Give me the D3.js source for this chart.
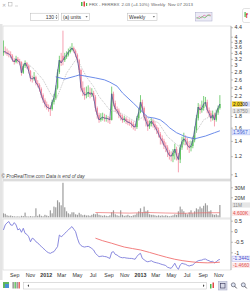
<!DOCTYPE html>
<html>
<head>
<meta charset="utf-8">
<script src="https://cdn.jsdelivr.net/npm/d3@7"></script>
<style>
  body { margin: 0; background: #fff; }
  svg { display: block; font-family: "Liberation Sans", Arial, sans-serif; }
  .axis text { font-size: 5.3px; fill: #333; }
  .axis line { stroke: #888; stroke-width: 0.5; }
  .axis path { display: none; }
</style>
</head>
<body>
<div id="chart"></div>
<script>
// weekly FRX candles, first bar week of Jul 21 2011, last Nov 07 2013
const firstWeek = new Date(2011, 6, 21);

const opens = [
  3.40,3.45,3.43,3.38,3.36,3.30,3.16,3.10,3.20,3.13,
  3.10,2.78,2.98,3.07,2.98,2.83,2.63,2.61,2.66,2.51,
  2.46,2.36,2.22,2.11,2.03,1.97,1.95,1.93,2.07,2.16,
  2.39,2.80,3.16,3.30,3.16,3.26,3.33,3.43,3.50,3.57,
  3.47,3.33,3.16,2.86,2.39,2.29,2.22,2.24,2.29,2.24,
  2.27,2.18,1.95,1.82,1.73,1.76,1.78,1.76,1.76,1.75,
  1.73,2.25,2.05,1.93,1.90,1.82,1.78,1.73,1.75,1.71,
  1.69,1.68,1.66,1.62,1.61,1.76,1.87,2.07,1.95,1.79,
  1.71,1.62,1.66,1.71,1.66,1.61,1.56,1.50,1.44,1.40,
  1.34,1.31,1.25,1.21,1.20,1.24,1.29,1.21,1.16,1.31,
  1.39,1.43,1.40,1.34,1.31,1.33,1.41,1.56,1.76,1.97,
  1.91,1.95,2.03,2.07,1.91,1.85,1.76,1.82,1.73,1.86,
  1.95];
const highs = [
  3.85,3.62,3.55,3.48,3.45,3.35,3.22,3.30,3.26,3.20,
  3.12,3.05,3.15,3.10,3.02,2.86,2.70,2.80,2.70,2.58,
  2.50,2.40,2.26,2.15,2.08,2.02,2.00,2.12,2.25,2.45,
  2.88,3.30,3.40,4.25,3.40,3.45,3.55,3.62,3.75,3.62,
  3.52,3.38,3.20,2.90,2.55,2.40,2.42,2.45,2.40,2.38,
  2.32,2.22,1.98,1.86,1.85,1.86,1.84,1.82,1.80,1.78,
  2.42,2.30,2.10,1.98,1.94,1.86,1.82,1.80,1.78,1.75,
  1.74,1.72,1.70,1.66,1.80,1.95,2.22,2.12,1.98,1.82,
  1.74,1.72,1.76,1.74,1.70,1.64,1.60,1.53,1.48,1.43,
  1.38,1.34,1.28,1.26,1.29,1.36,1.32,1.24,1.35,1.46,
  1.52,1.48,1.44,1.38,1.40,1.46,1.62,1.82,2.05,2.02,
  2.10,2.20,2.18,2.12,1.96,1.90,1.90,1.86,1.92,2.00,
  2.22];
const lows = [
  3.30,3.35,3.30,3.25,3.22,3.10,3.02,3.06,3.05,3.00,
  2.70,2.75,2.92,2.90,2.76,2.55,2.52,2.57,2.45,2.40,
  2.30,2.15,2.05,1.96,1.92,1.88,1.80,1.90,2.02,2.12,
  2.35,2.75,2.98,3.00,3.10,3.20,3.28,3.38,3.45,3.40,
  3.25,3.08,2.78,2.30,2.20,2.12,2.15,2.18,2.15,2.18,
  2.10,1.88,1.75,1.68,1.70,1.72,1.70,1.70,1.68,1.66,
  1.72,1.98,1.88,1.84,1.76,1.72,1.68,1.69,1.66,1.64,
  1.63,1.60,1.57,1.55,1.58,1.72,1.85,1.88,1.72,1.62,
  1.55,1.58,1.62,1.60,1.56,1.50,1.45,1.35,1.35,1.29,
  1.25,1.19,1.16,1.14,1.13,1.16,1.15,1.02,1.12,1.28,
  1.35,1.34,1.28,1.24,1.26,1.30,1.38,1.52,1.72,1.84,
  1.86,1.90,1.98,1.85,1.78,1.70,1.72,1.62,1.70,1.82,
  1.92];
const closes = [
  3.45,3.43,3.38,3.36,3.30,3.16,3.10,3.20,3.13,3.10,
  2.78,2.98,3.07,2.98,2.83,2.63,2.61,2.66,2.51,2.46,
  2.36,2.22,2.11,2.03,1.97,1.95,1.93,2.07,2.16,2.39,
  2.80,3.16,3.07,3.16,3.26,3.33,3.43,3.50,3.57,3.47,
  3.33,3.16,2.86,2.39,2.29,2.22,2.24,2.29,2.24,2.27,
  2.18,1.95,1.82,1.73,1.76,1.78,1.76,1.76,1.75,1.73,
  2.25,2.05,1.93,1.90,1.82,1.78,1.73,1.75,1.71,1.69,
  1.68,1.66,1.62,1.61,1.76,1.87,2.07,1.95,1.79,1.71,
  1.62,1.66,1.71,1.66,1.61,1.56,1.50,1.44,1.40,1.34,
  1.31,1.25,1.21,1.20,1.24,1.29,1.21,1.16,1.31,1.39,
  1.43,1.40,1.34,1.31,1.33,1.41,1.56,1.76,1.97,1.91,
  1.95,2.03,2.07,1.91,1.85,1.76,1.82,1.73,1.86,1.95,
  2.03];
// volume in millions of shares
const volumes = [
  4,3.5,2,1.5,1.8,1.2,1,0.8,1,0.7,
  1.5,1.2,4.7,1,0.8,1.2,0.9,1,9,1.5,
  3,1.5,1,2.5,1.8,1.2,7,4,10.7,10,
  17,15,12,34.5,10,6,4,3,5,5,
  3,2.5,4.5,3,2,2.5,1.8,2,1.5,2.5,
  3.5,3,4,2.5,2,1.5,2,1.5,1.2,2,
  5,7,3,2,1.5,7,2.5,1.5,1.8,2.5,
  1.5,1.2,2,2.5,4,6,9,5,10.7,6,
  7,3,2.5,2.5,2,1.5,2,1.5,2,1.5,
  2,1.5,1,1.5,2,3,2.5,6,10.7,8,
  6,4,3,5,7,4,6,9,8,10.7,
  9,11.5,14,12,6,7,3,2.5,3,2,
  12.3];
// [week index, value]
const maSlow = [[29,2.67],[34,2.61],[40,2.69],[42,2.72],[51,2.64],[56,2.59],[59,2.53],[63,2.43],
  [66,2.27],[72,2.05],[76,1.91],[80,1.78],[84,1.76],[87,1.73],[90,1.66],[92,1.60],[96,1.52],
  [101,1.46],[106,1.43],[112,1.47],[117,1.52],[120,1.55]];
const maFast = [[14,3.02],[17,2.88],[22,2.59],[26,2.26],[29,2.11],[31,2.30],[35,2.77],[40,3.16],
  [42,3.07],[46,2.67],[50,2.42],[53,2.19],[59,1.91],[64,1.86],[67,1.82],[73,1.70],[78,1.79],
  [86,1.68],[91,1.46],[97,1.33],[101,1.35],[104,1.41],[111,1.73],[114,1.78],[120,1.87]];
const volAvg = [[51,4.8],[60,4.5],[70,4.2],[80,4.8],[90,4.3],[100,4.0],[110,4.5],[120,4.6]];
const oscBlue = [
  0.06,0.30,0.40,0.46,0.30,0.28,0.41,0.30,0.06,0.12,
  -0.05,0.14,-0.10,-0.15,-0.26,-0.50,-0.33,-0.38,-0.50,-0.55,
  -0.65,-0.72,-0.81,-0.88,-0.97,-1.02,-1.05,-1.00,-0.97,-0.85,
  -0.73,-0.18,-0.26,-0.20,-0.10,-0.02,0.06,0.15,0.22,0.10,
  -0.02,-0.33,-0.57,-0.68,-0.73,-0.75,-0.73,-0.72,-0.76,-0.82,
  -0.89,-1.05,-1.13,-1.21,-1.19,-1.18,-1.20,-1.21,-1.25,-1.29,
  -1.00,-0.97,-1.10,-1.13,-1.20,-1.24,-1.26,-1.25,-1.27,-1.28,
  -1.29,-1.29,-1.31,-1.33,-1.20,-1.10,-1.05,-1.29,-1.35,-1.42,
  -1.45,-1.43,-1.40,-1.45,-1.48,-1.50,-1.52,-1.55,-1.58,-1.60,
  -1.63,-1.71,-1.74,-1.76,-1.65,-1.52,-1.70,-1.81,-1.60,-1.52,
  -1.55,-1.57,-1.62,-1.65,-1.62,-1.60,-1.52,-1.45,-1.40,-1.38,
  -1.37,-1.33,-1.32,-1.37,-1.40,-1.45,-1.43,-1.50,-1.45,-1.37,
  -1.34];
const oscRed = [[51,-0.33],[55,-0.45],[60,-0.57],[67,-0.75],[76,-0.89],[86,-1.13],[95,-1.33],
  [104,-1.45],[113,-1.50],[120,-1.47]];

// ticks that the value tags do not hide
const priceTicks = [1, 1.2, 1.4, 1.6, 1.8, 2.2, 2.4, 2.6, 2.8, 3, 3.2, 3.4, 3.6, 3.8, 4, 4.4];
const volTicks = [20, 30];
const oscTicks = [0.5, 0, -0.5, -1];
const monthTicks = ["2011-09-01","2011-11-01","2012-01-01","2012-03-01","2012-05-01","2012-07-01",
  "2012-09-01","2012-11-01","2013-01-01","2013-03-01","2013-05-01","2013-07-01","2013-09-01","2013-11-01"];
const tags = { close: "2.0300", fast: "1.8750", slow: "1.5967", vol: "11M", volAvg: "4.600K",
  oscBlue: "-1.3441", oscRed: "-1.4660" };

const W = 250, H = 292;
const left = 3, right = 231;
const pTop = 26, pBot = 179, vTop = 181, vBot = 218, oTop = 219, oBot = 270;

const svg = d3.select("#chart").append("svg").attr("width", W).attr("height", H);

const dates = closes.map((_, i) => d3.timeDay.offset(firstWeek, 7 * i));
const x = d3.scaleTime().domain([new Date(2012, 0, 1), new Date(2013, 0, 1)]).range([45.7, 140]);
const xi = i => x(dates[i]);
const yP = d3.scaleLog().domain([1, 4]).range([174.3, 36.7]);
const yV = d3.scaleLinear().domain([0, 30]).range([217.3, 187.3]);
const yO = d3.scaleLinear().domain([-1, 0.5]).range([252.3, 220.7]);

// frame
svg.append("rect").attr("x", 0).attr("y", 24).attr("width", 2.5).attr("height", 256).attr("fill", "#e4e4e4");
const defs = svg.append("defs");
[["p", pTop, pBot], ["v", vTop, vBot], ["o", oTop, oBot]].forEach(([id, t, b]) => {
  defs.append("clipPath").attr("id", "clip-" + id).append("rect")
    .attr("x", left).attr("y", t).attr("width", right - left).attr("height", b - t);
  svg.append("rect").attr("x", left).attr("y", t).attr("width", right - left).attr("height", b - t)
    .attr("fill", "#fff").attr("stroke", "#d4d4d4").attr("stroke-width", 0.6);
});
svg.append("rect").attr("x", left).attr("y", pBot).attr("width", right - left).attr("height", vTop - pBot).attr("fill", "#dcdcdc");
svg.append("line").attr("x1", right).attr("x2", right).attr("y1", pTop).attr("y2", oBot)
  .attr("stroke", "#9a9a9a").attr("stroke-width", 0.6);

// price panel
const pg = svg.append("g").attr("clip-path", "url(#clip-p)");
const idx = d3.range(closes.length);
const upCol = "#5cc45c", dnCol = "#f4899e";
pg.selectAll("line.wick").data(idx).join("line").attr("class", "wick")
  .attr("x1", xi).attr("x2", xi)
  .attr("y1", i => yP(highs[i])).attr("y2", i => yP(lows[i]))
  .attr("stroke", i => closes[i] >= opens[i] ? upCol : dnCol).attr("stroke-width", 0.8);
pg.selectAll("rect.body").data(idx).join("rect").attr("class", "body")
  .attr("x", i => xi(i) - 0.7).attr("width", 1.4)
  .attr("y", i => yP(Math.max(opens[i], closes[i])))
  .attr("height", i => Math.max(0.6, Math.abs(yP(opens[i]) - yP(closes[i]))))
  .attr("fill", i => closes[i] >= opens[i] ? upCol : dnCol);

const maLine = d3.line().x(d => xi(d[0])).y(d => yP(d[1]));
pg.append("path").attr("d", maLine(maFast)).attr("fill", "none")
  .attr("stroke", "#b4b4b4").attr("stroke-width", 0.8).attr("stroke-dasharray", "1,1");
pg.append("path").attr("d", maLine(maSlow)).attr("fill", "none")
  .attr("stroke", "#5b7fe6").attr("stroke-width", 0.9);
pg.append("path").attr("d", d3.line().x(i => xi(i)).y(i => yP(closes[i]))(idx))
  .attr("fill", "none").attr("stroke", "#56569a").attr("stroke-width", 0.8);

svg.append("text").attr("x", 1.5).attr("y", 178).attr("font-size", 4.8).attr("font-style", "italic")
  .attr("fill", "#444").text("© ProRealTime.com  Data is end of day");

// volume panel
const vg = svg.append("g").attr("clip-path", "url(#clip-v)");
vg.selectAll("rect").data(idx).join("rect")
  .attr("x", i => xi(i) - 0.6).attr("width", 1.2)
  .attr("y", i => yV(volumes[i])).attr("height", i => yV(0) - yV(volumes[i]))
  .attr("fill", "#9d9d9d");
vg.append("path").attr("d", d3.line().x(d => xi(d[0])).y(d => yV(d[1]))(volAvg))
  .attr("fill", "none").attr("stroke", "#ec6f6f").attr("stroke-width", 0.7);

// oscillator panel
const og = svg.append("g").attr("clip-path", "url(#clip-o)");
og.append("path").attr("d", d3.line().x(i => xi(i)).y(i => yO(oscBlue[i]))(idx))
  .attr("fill", "none").attr("stroke", "#6c6cd6").attr("stroke-width", 0.8);
og.append("path").attr("d", d3.line().curve(d3.curveMonotoneX).x(d => xi(d[0])).y(d => yO(d[1]))(oscRed))
  .attr("fill", "none").attr("stroke", "#f07070").attr("stroke-width", 0.9);

// right axes
const fmtNum = d => String(d);
svg.append("g").attr("class", "axis").attr("transform", `translate(${right},0)`)
  .call(d3.axisRight(yP).tickValues(priceTicks).tickSize(2).tickPadding(1.5).tickFormat(fmtNum));
svg.append("g").attr("class", "axis").attr("transform", `translate(${right},0)`)
  .call(d3.axisRight(yV).tickValues(volTicks).tickSize(2).tickPadding(1.5).tickFormat(d => d + "M"));
svg.append("g").attr("class", "axis").attr("transform", `translate(${right},0)`)
  .call(d3.axisRight(yO).tickValues(oscTicks).tickSize(2).tickPadding(1.5).tickFormat(fmtNum));

// value tags on the axis
function tag(y, txt, bg, fg, border) {
  const g = svg.append("g");
  g.append("rect").attr("x", 232).attr("y", y - 2.6).attr("width", 18).attr("height", 5.2)
    .attr("fill", bg).attr("stroke", border || "none").attr("stroke-width", 0.4);
  g.append("text").attr("x", 233).attr("y", y + 1.7).attr("font-size", 4.8).attr("fill", fg).text(txt);
  return g;
}
const last = closes.length - 1;
tag(yP(maFast[maFast.length - 1][1]) - 1.3, tags.fast, "#e6e6e6", "#888");
tag(yP(maSlow[maSlow.length - 1][1]) + 1.5, tags.slow, "#e2e8ff", "#3d5fd0", "#9fb0ee");
const ct = tag(yP(closes[last]), tags.close, "#d9dcf6", "#222");
ct.insert("rect", "text").attr("x", 232).attr("y", yP(closes[last]) - 2.6).attr("width", 10.5).attr("height", 5.2).attr("fill", "#f2cf1a");
tag(yV(volumes[last]), tags.vol, "#e6e6e6", "#888");
tag(yV(volAvg[volAvg.length - 1][1]) + 0.6, tags.volAvg, "#fde6e6", "#e04848");
tag(yO(oscBlue[last]) - 0.8, tags.oscBlue, "#eef0ff", "#4646c8", "#a0a0e0");
tag(yO(oscRed[oscRed.length - 1][1]) + 3.2, tags.oscRed, "#fde8e8", "#e05050");

// time axis
const xAxis = svg.append("g").attr("class", "axis").attr("transform", `translate(0,${oBot})`)
  .call(d3.axisBottom(x).tickValues(monthTicks.map(d => d3.timeParse("%Y-%m-%d")(d)))
    .tickSize(0).tickPadding(3.3)
    .tickFormat(d => d.getMonth() === 0 ? d3.timeFormat("%Y")(d) : d3.timeFormat("%b")(d)));
xAxis.selectAll("text").attr("fill", "#555")
  .filter(d => d.getMonth() === 0).attr("font-weight", "bold").attr("fill", "#222");

// title bar
const tb = svg.append("g").attr("font-size", 4.4).attr("fill", "#666");
tb.append("text").attr("x", 2).attr("y", 6.5).attr("font-size", 5.4).attr("fill", "#aaa").text("✕");
tb.append("rect").attr("x", 8.5).attr("y", 2.5).attr("width", 3.5).attr("height", 3.5).attr("fill", "none").attr("stroke", "#aaa").attr("stroke-width", 0.5);
tb.append("line").attr("x1", 15).attr("x2", 18).attr("y1", 6).attr("y2", 6).attr("stroke", "#aaa").attr("stroke-width", 0.5);
tb.append("rect").attr("x", 81).attr("y", 2).attr("width", 1.5).attr("height", 4).attr("fill", "#4cb84c");
tb.append("rect").attr("x", 83.5).attr("y", 1.5).attr("width", 1.5).attr("height", 5).attr("fill", "#e04040");
tb.append("rect").attr("x", 86).attr("y", 3).attr("width", 1.2).attr("height", 3).attr("fill", "#4cb84c");
tb.append("text").attr("x", 89).attr("y", 6.2).text("FRX - FERREX");
tb.append("text").attr("x", 121.5).attr("y", 6.2).text("2.03 (+4.10%)");
tb.append("text").attr("x", 151).attr("y", 6.2).text("Weekly");
tb.append("text").attr("x", 168).attr("y", 6.2).text("Nov 07 2013");

// toolbar
const tool = svg.append("g").attr("font-size", 5).attr("fill", "#333");
tool.append("rect").attr("x", 30.5).attr("y", 13.2).attr("width", 28).attr("height", 7.4)
  .attr("fill", "#fff").attr("stroke", "#b8b8b8").attr("stroke-width", 0.5);
tool.append("text").attr("x", 54).attr("y", 18.6).attr("text-anchor", "end").text("130");
tool.append("path").attr("d", "M55.5,16.3 l1,-1.4 l1,1.4 z M55.5,17.5 l1,1.4 l1,-1.4 z").attr("fill", "#555");
tool.append("rect").attr("x", 61.5).attr("y", 13.2).attr("width", 28).attr("height", 7.4)
  .attr("fill", "#fff").attr("stroke", "#b8b8b8").attr("stroke-width", 0.5);
tool.append("text").attr("x", 63).attr("y", 18.6).text("(a) units");
tool.append("path").attr("d", "M85.5,16.2 l1.1,1.4 l1.1,-1.4 z").attr("fill", "#444");
tool.append("rect").attr("x", 127.5).attr("y", 13.2).attr("width", 29.5).attr("height", 7.4)
  .attr("fill", "#fff").attr("stroke", "#b8b8b8").attr("stroke-width", 0.5);
tool.append("text").attr("x", 129).attr("y", 18.6).text("Weekly");
tool.append("path").attr("d", "M152.8,16.2 l1.1,1.4 l1.1,-1.4 z").attr("fill", "#444");
tool.append("rect").attr("x", 195.5).attr("y", 12.5).attr("width", 16.5).attr("height", 8.5)
  .attr("fill", "#ecebf6").attr("stroke", "#a9a9c9").attr("stroke-width", 0.5);
tool.append("path").attr("d", "M196.5,19 l2.5,-2.5 l2.5,1.5 l2.5,-3 l2.5,1.5 l2.5,-2 l2,1")
  .attr("fill", "none").attr("stroke", "#e05b9a").attr("stroke-width", 0.6);
tool.append("path").attr("d", "M196.5,17.5 l3,1 l2.5,-2 l3,1.5 l2.5,-3 l3,1")
  .attr("fill", "none").attr("stroke", "#4cb84c").attr("stroke-width", 0.6);
tool.append("rect").attr("x", 242.5).attr("y", 8.5).attr("width", 9).attr("height", 14).attr("rx", 2)
  .attr("fill", "#fff").attr("stroke", "#c4c4c4").attr("stroke-width", 0.5);
tool.append("text").attr("x", 245.5).attr("y", 18).attr("font-size", 7).attr("font-weight", "bold")
  .attr("fill", "#d83838").text("f");
tool.append("rect").attr("x", 244.5).attr("y", 12).attr("width", 1.2).attr("height", 5).attr("fill", "#4cb84c");

// bottom bar
const bb = svg.append("g");
bb.append("rect").attr("x", 3).attr("y", 282).attr("width", 6).attr("height", 6).attr("fill", "#5fb65f");
bb.append("rect").attr("x", 5).attr("y", 284).attr("width", 4).attr("height", 4).attr("fill", "#4a8fd6");
[[12.5, "#888"], [14.5, "#4cb84c"], [16.5, "#888"], [18.5, "#e04848"]].forEach(([bx, c]) =>
  bb.append("rect").attr("x", bx).attr("y", 282).attr("width", 1.3).attr("height", 6.5).attr("fill", c));
bb.append("rect").attr("x", 23.5).attr("y", 282.5).attr("width", 183).attr("height", 6.5)
  .attr("fill", "#fff").attr("stroke", "#bdbdbd").attr("stroke-width", 0.5);
bb.append("path").attr("d", "M27.5,285.7 l1.5,-1.4 v2.8 z M203,284.3 l1.5,1.4 l-1.5,1.4 z").attr("fill", "#444");
bb.append("rect").attr("x", 210).attr("y", 284).attr("width", 1.5).attr("height", 4.5).attr("fill", "#4cb84c");
bb.append("rect").attr("x", 212.5).attr("y", 282.5).attr("width", 1.5).attr("height", 5.5).attr("fill", "#e04848");
bb.append("rect").attr("x", 218.5).attr("y", 281.5).attr("width", 8.5).attr("height", 8.5)
  .attr("fill", "#d8dae8").attr("stroke", "#9ea3c2").attr("stroke-width", 0.5);
bb.append("rect").attr("x", 220.5).attr("y", 283.5).attr("width", 4.5).attr("height", 4.5)
  .attr("fill", "none").attr("stroke", "#335").attr("stroke-width", 0.6);
[231.5, 241.5].forEach(mx => {
  bb.append("circle").attr("cx", mx + 1.8).attr("cy", 284.8).attr("r", 2)
    .attr("fill", "#dfe6f4").attr("stroke", "#445").attr("stroke-width", 0.6);
  bb.append("line").attr("x1", mx + 3.2).attr("y1", 286.2).attr("x2", mx + 5.2).attr("y2", 288.4)
    .attr("stroke", "#445").attr("stroke-width", 0.9);
});
</script>
</body>
</html>
